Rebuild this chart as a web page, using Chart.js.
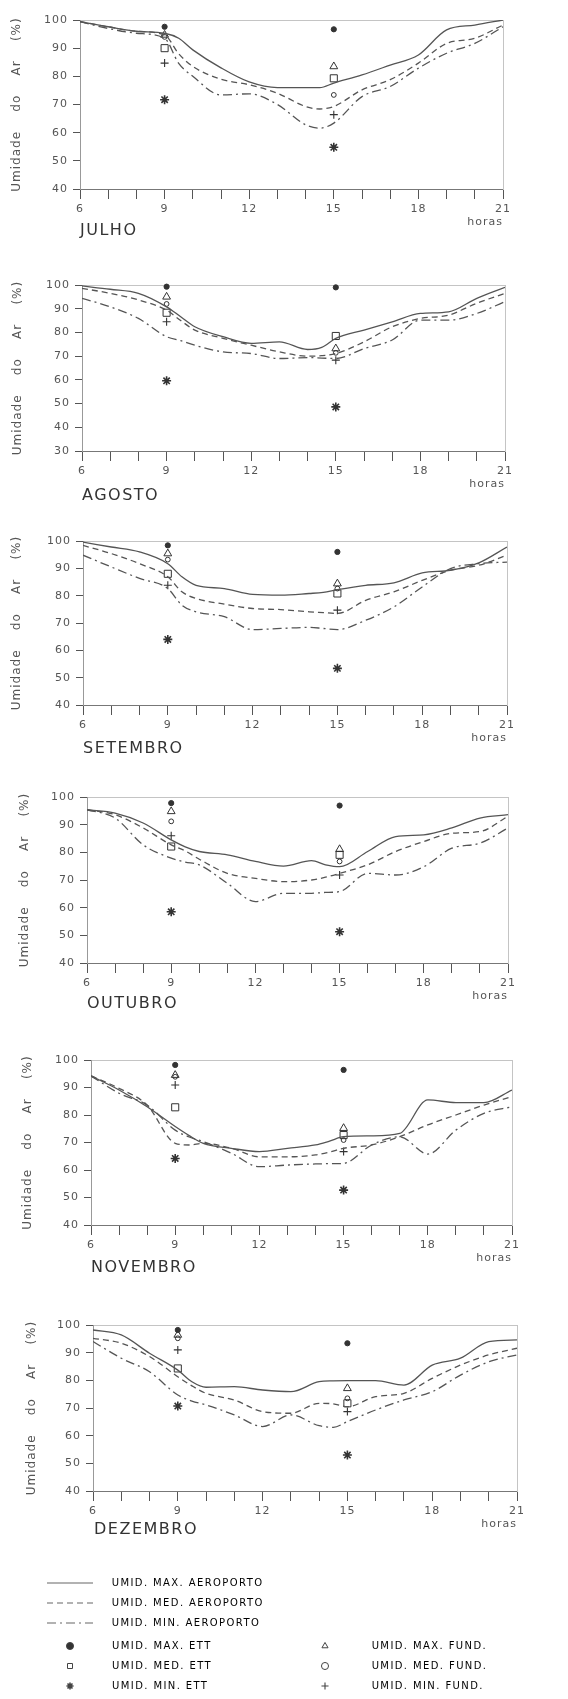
<!DOCTYPE html>
<html>
<head>
<meta charset="utf-8">
<script src="https://cdn.jsdelivr.net/npm/chart.js@4.4.1/dist/chart.umd.min.js"></script>
<style>
body { margin: 0; background: #fff; width: 568px; height: 1699px; position: relative; overflow: hidden; font-family: "DejaVu Sans", sans-serif; }
canvas { position: absolute; }
.month { position: absolute; font-size: 16px; line-height: 18px; color: #333; letter-spacing: 1.5px; }
</style>
</head>
<body>
<script>
// hours (x axis)
const hours = [6, 7, 8, 9, 9.5, 10, 11, 12, 13, 14, 14.5, 15, 16, 17, 18, 19, 20, 21];
const months = ['JULHO', 'AGOSTO', 'SETEMBRO', 'OUTUBRO', 'NOVEMBRO', 'DEZEMBRO'];
const yMins = [40, 30, 40, 40, 40, 40];

// aeroporto curves, one row per month
const maxAero = [
  [99.4, 97.6, 96, 95.3, 93.5, 89.4, 83, 78, 76, 76, 76, 77.6, 80.5, 84, 87.6, 96.5, 98.2, 100],
  [99.6, 98.2, 96.5, 90.8, 86.6, 82.4, 78.2, 75.4, 76, 72.8, 73.7, 77.5, 81, 84.5, 88, 88.7, 94.4, 99],
  [99.6, 97.8, 96, 91.7, 86.9, 83.8, 82.6, 80.5, 80.2, 80.8, 81.2, 82.2, 83.8, 84.7, 88.3, 89.3, 92, 97.8],
  [95.4, 94.2, 90.6, 84.5, 82, 80.3, 79.1, 76.7, 75, 77, 75.5, 74.8, 80.3, 85.7, 86.3, 88.8, 92.4, 93.6],
  [94.2, 89.1, 83, 75.8, 72.5, 69.7, 67.9, 66.7, 67.9, 69.1, 70.5, 72.1, 72.4, 73.3, 85.5, 84.5, 84.5, 89.1],
  [98.2, 96.4, 89.8, 83.7, 79.5, 77.5, 77.7, 76.5, 75.9, 79.5, 79.8, 79.9, 79.9, 78.3, 85.5, 88, 94, 94.6]
];
const medAero = [
  [99.4, 97.6, 96, 94.7, 88, 83.5, 79, 77, 74, 69.3, 68.4, 69.3, 75.2, 78.8, 84.7, 91.7, 93.5, 98.2],
  [98.6, 96.5, 93.7, 89.4, 85, 81, 77.5, 74.6, 71.8, 70, 70.2, 71.1, 76, 82.4, 85.9, 87.3, 92.3, 96.5],
  [98.4, 95.4, 91.7, 86.9, 81.4, 79, 76.9, 75.3, 74.9, 74.1, 73.8, 73.5, 78.3, 81.4, 85.6, 89.3, 91.1, 94.8],
  [95.4, 93.6, 88.8, 82.7, 80.5, 77.5, 72.4, 70.6, 69.4, 70, 71, 72.4, 75.5, 80.3, 83.9, 86.9, 87.5, 93],
  [94.2, 89.7, 83.6, 69.7, 69.1, 69.7, 67.9, 64.8, 64.8, 65.5, 66.5, 67.9, 69.1, 72.1, 76.4, 80, 83.6, 86.7],
  [95.2, 93.4, 88.6, 81.3, 78, 75.3, 72.9, 68.7, 68.1, 71.7, 71.5, 70.5, 74.1, 75.3, 80.7, 85.5, 89.2, 91.6]
];
const minAero = [
  [99.4, 97, 95.3, 93.5, 84.6, 80, 73.4, 73.8, 70, 62.8, 61.6, 63.4, 72.8, 76.4, 82.9, 88.2, 91.7, 97.6],
  [94.4, 90.8, 85.9, 78.2, 76.5, 74.6, 71.8, 71.1, 69, 69.4, 69.2, 69, 73.2, 76.8, 85.2, 85.2, 88, 93],
  [94.8, 90.5, 86.3, 82.6, 76.5, 74.1, 72.3, 67.6, 68, 68.4, 68, 67.6, 71, 75.9, 83.2, 89.9, 91.7, 92.3],
  [95.4, 92.4, 82.7, 77.9, 76.5, 75.5, 68.8, 62.2, 65.2, 65.2, 65.5, 65.8, 72.4, 71.8, 74.8, 81.5, 83.3, 88.8],
  [94.2, 87.9, 83.6, 74.5, 72, 70.3, 66.1, 61.2, 61.8, 62.2, 62.3, 62.4, 69.1, 72.1, 65.8, 74.5, 80.6, 83],
  [94, 88, 83.1, 74.7, 72.5, 71.1, 67.5, 63.3, 67.5, 63.6, 63, 65.1, 69.3, 72.9, 75.9, 81.9, 86.7, 89.2]
];

// ETT and FUND readings at 9h and 15h, one pair per month
const obsHours = [9, 15];
const maxEtt = [[97.6, 96.7], [99.3, 99], [98.4, 96], [97.8, 96.9], [98.2, 96.4], [98.2, 93.4]];
const medEtt = [[90, 79.3], [88.3, 78.5], [88, 80.8], [82.1, 79.1], [82.8, 72.7], [84.3, 71.7]];
const minEtt = [[71.7, 54.8], [59.6, 48.6], [64, 53.4], [58.5, 51.3], [64.2, 52.7], [70.7, 53]];
const maxFund = [[94.7, 83.5], [95, 73.2], [95.4, 84.4], [94.8, 81.1], [94.5, 75.2], [96.4, 77.1]];
const medFund = [[94, 73.4], [92, 71.4], [93.2, 82.6], [91.2, 76.7], [93.9, 70.9], [95.2, 73.5]];
const minFund = [[84.7, 66.4], [84.5, 68.3], [83.8, 74.7], [86, 71.8], [90.9, 66.7], [91, 68.7]];

const aeroLabels = ['UMID. MAX. AEROPORTO', 'UMID. MED. AEROPORTO', 'UMID. MIN. AEROPORTO'];
const ettLabels = ['UMID. MAX. ETT', 'UMID. MED. ETT', 'UMID. MIN. ETT'];
const fundLabels = ['UMID. MAX. FUND.', 'UMID. MED. FUND.', 'UMID. MIN. FUND.'];

// plot area of each panel: left, right, top, bottom, y title centre x
const frames = [
  [80, 503, 20, 189, 17],
  [82, 505, 285, 451, 18],
  [83, 507, 541, 705, 17],
  [87, 508, 797, 963, 25],
  [91, 512, 1060, 1225, 28],
  [93, 517, 1325, 1491, 32]
];
const monthPos = [[80, 230], [82, 495], [83, 748], [87, 1003], [91, 1267], [94, 1529]];

Chart.defaults.font.family = '"DejaVu Sans", sans-serif';
Chart.defaults.color = '#555';
Chart.defaults.animation = false;

const ink = '#555';
const dashes = [[], [6, 4], [9, 4, 2, 4]];
const ettMarks = [
  { style: 'circle', r: 2.6, w: 1, fill: true },
  { style: 'rect', r: 5, w: 1, fill: false },
  { style: 'star', r: 4.5, w: 1.6, fill: false }
];
const fundMarks = [
  { style: 'triangle', r: 4.5, w: 1, fill: false },
  { style: 'circle', r: 2.4, w: 1, fill: false },
  { style: 'cross', r: 4, w: 1.1, fill: false }
];

// letter spacing like the plotter lettering
const spacing = {
  id: 'spacing',
  beforeDraw(c, args, opts) { c.ctx.letterSpacing = (opts.px || 0) + 'px'; }
};

function addCanvas(left, top, w, h) {
  const cv = document.createElement('canvas');
  cv.width = w; cv.height = h;
  cv.style.left = left + 'px';
  cv.style.top = top + 'px';
  document.body.appendChild(cv);
  return cv;
}

months.forEach((name, i) => {
  const [l, r, t, b, tx] = frames[i];
  const cv = addCanvas(0, t - 12, 568, 12 + (b - t) + 50);

  const datasets = [maxAero, medAero, minAero].map((rows, k) => ({
    label: aeroLabels[k],
    data: hours.map((x, j) => ({ x: x, y: rows[i][j] })),
    borderColor: ink,
    borderWidth: 1.3,
    borderDash: dashes[k],
    pointRadius: 0,
    cubicInterpolationMode: 'monotone',
    fill: false
  }));

  const obs = [maxEtt, medEtt, minEtt, maxFund, medFund, minFund];
  const marks = ettMarks.concat(fundMarks);
  const obsLabels = ettLabels.concat(fundLabels);
  obs.forEach((rows, k) => {
    const m = marks[k];
    datasets.push({
      label: obsLabels[k],
      data: obsHours.map((x, j) => ({ x: x, y: rows[i][j] })),
      showLine: false,
      clip: false,
      pointStyle: m.style,
      pointRadius: m.r,
      pointBorderWidth: m.w,
      pointBorderColor: '#333',
      pointBackgroundColor: m.fill ? '#333' : 'rgba(0,0,0,0)'
    });
  });

  new Chart(cv, {
    type: 'line',
    data: { datasets: datasets },
    options: {
      responsive: false,
      events: [],
      layout: { padding: { top: 12, left: 0, right: 568 - r, bottom: 0 } },
      plugins: { legend: { display: false }, tooltip: { enabled: false }, spacing: { px: 1 } },
      scales: {
        x: {
          type: 'linear', min: 6, max: 21,
          ticks: {
            stepSize: 1, autoSkip: false, maxRotation: 0, padding: 4,
            font: { size: 11 },
            callback: v => (v % 3 === 0 ? v : '')
          },
          grid: { drawOnChartArea: false, tickLength: 10, tickColor: ink },
          border: { color: '#777' },
          title: { display: true, text: 'horas', align: 'end', font: { size: 11 }, padding: { top: 0, bottom: 10 } },
          afterFit: s => { s.height = 50; }
        },
        x2: {
          type: 'linear', position: 'top', min: 6, max: 21,
          ticks: { display: false },
          grid: { drawOnChartArea: false, drawTicks: false },
          border: { color: '#c4c4c4', dash: [5, 3] },
          afterFit: s => { s.height = 0; }
        },
        y: {
          min: yMins[i], max: 100,
          ticks: { stepSize: 10, padding: 5, font: { size: 11 } },
          grid: { drawOnChartArea: false, tickLength: 7, tickColor: ink },
          border: { color: '#999' },
          title: {
            display: true, text: 'Umidade    do    Ar    (%)', font: { size: 12 },
            padding: { top: tx - 7, bottom: 0 }
          },
          afterFit: s => { s.width = l; }
        },
        y2: {
          position: 'right', min: yMins[i], max: 100,
          ticks: { display: false },
          grid: { drawOnChartArea: false, drawTicks: false },
          border: { color: '#c4c4c4', dash: [5, 3] },
          afterFit: s => { s.width = 0; }
        }
      }
    },
    plugins: [spacing]
  });

  const lab = document.createElement('div');
  lab.className = 'month';
  lab.textContent = name;
  lab.style.left = monthPos[i][0] + 'px';
  lab.style.top = (monthPos[i][1] - 9) + 'px';
  document.body.appendChild(lab);
});

// legend, built as three small legend-only charts
function legendChart(left, top, items, styleWidth, lead) {
  const cv = addCanvas(left, top, 260, 160);
  new Chart(cv, {
    type: 'line',
    data: { datasets: [] },
    options: {
      responsive: false,
      events: [],
      layout: { padding: 0 },
      scales: { x: { display: false }, y: { display: false } },
      plugins: {
        tooltip: { enabled: false },
        spacing: { px: 1.4 },
        legend: {
          display: true, position: 'top', align: 'start', maxHeight: 120,
          labels: {
            usePointStyle: true,
            pointStyleWidth: styleWidth,
            boxHeight: 5,
            padding: 10,
            color: '#555',
            font: { size: 10 },
            generateLabels: () => items.map(it => ({
              text: lead + it.text,
              pointStyle: it.style,
              lineDash: it.dash || [],
              lineWidth: it.w || 1,
              strokeStyle: it.stroke || '#444',
              fillStyle: it.fill ? '#333' : 'rgba(0,0,0,0)',
              hidden: false
            }))
          }
        }
      }
    },
    plugins: [spacing]
  });
}

legendChart(37, 1568, aeroLabels.map((t, k) => ({ text: t, style: 'line', dash: dashes[k], w: 1.2, stroke: '#666' })), 46, '   ');
legendChart(55, 1631, ettLabels.map((t, k) => ({ text: t, style: ettMarks[k].style, fill: ettMarks[k].fill, w: ettMarks[k].w })), undefined, '       ');
legendChart(310, 1631, fundLabels.map((t, k) => ({ text: t, style: fundMarks[k].style, fill: fundMarks[k].fill, w: fundMarks[k].w })), undefined, '        ');
</script>
</body>
</html>
